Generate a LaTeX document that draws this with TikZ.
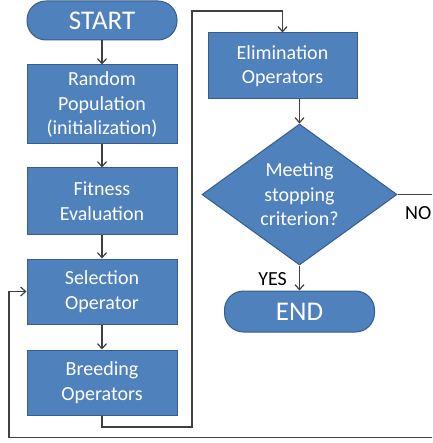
\documentclass[tikz,border=0pt]{standalone}
\usepackage{fontspec}
\setmainfont{Carlito}
\usetikzlibrary{shapes.geometric,arrows.meta}
\definecolor{boxblue}{HTML}{4F81BD}
\definecolor{boxedge}{HTML}{385D8A}
\definecolor{wire}{HTML}{404040}
\tikzset{
  blk/.style={draw=boxedge,line width=1pt,fill=boxblue,text=white,align=center,
    font=\fontsize{20}{24.5}\selectfont,minimum width=150pt,inner sep=0pt},
  term/.style={blk,rounded corners=19pt,font=\fontsize{27}{30}\selectfont},
  dec/.style={blk,diamond,minimum width=195pt,minimum height=141pt,aspect=1.38},
  flow/.style={draw=wire,line width=1.2pt,-{Straight Barb[length=5pt,width=9pt]}},
  lbl/.style={font=\fontsize{20}{24}\selectfont,inner sep=0pt}
}

\begin{document}
\begin{tikzpicture}[x=1pt,y=-1pt]
\useasboundingbox (0,0) rectangle (432,443);
\clip (0,0) rectangle (432,443);
\coordinate (B1) at (102,427);
\coordinate (B2) at (192,11);
\coordinate (R1) at (450,437.5);
\coordinate (L1) at (9,437.5);
\node[term,minimum height=39pt] (start) at (102,20.5) {START};
\node[blk,minimum height=79pt] (rand) at (102,104.5) {Random\\Population\\(initialization)};
\node[blk,minimum height=66pt] (fit) at (102,201) {Fitness\\Evaluation};
\node[blk,minimum height=65pt] (sel) at (102,291.5) {Selection\\Operator};
\node[blk,minimum height=65pt] (breed) at (102,382.5) {Breeding\\Operators};
\node[blk,minimum width=149pt,minimum height=66pt] (elim) at (282.5,66) {Elimination\\Operators};
\node[dec] (crit) at (299.5,194.5) {Meeting\\stopping\\criterion?};
\node[term,minimum height=41pt] (stop) at (299.5,311.5) {END};
\node[lbl,anchor=base east] (yes) at (287,285) {YES};
\node[lbl,anchor=base west] (no) at (405,219) {NO};
\draw[flow] (start) -- (rand);
\draw[flow] (rand) -- (fit);
\draw[flow] (fit) -- (sel);
\draw[flow] (sel) -- (breed);
\draw[flow] (breed.south) -- (B1) -| (B2) -| (elim.north);
\draw[flow] (elim.south -| crit.north) -- (crit.north);
\draw[flow] (crit.south) -- (stop.north);
\draw[flow] (crit.east) -| (R1) -- (L1) |- (sel.west);
%\draw[red] (0,0) grid[step=50] (432,443);
\end{tikzpicture}
\end{document}
